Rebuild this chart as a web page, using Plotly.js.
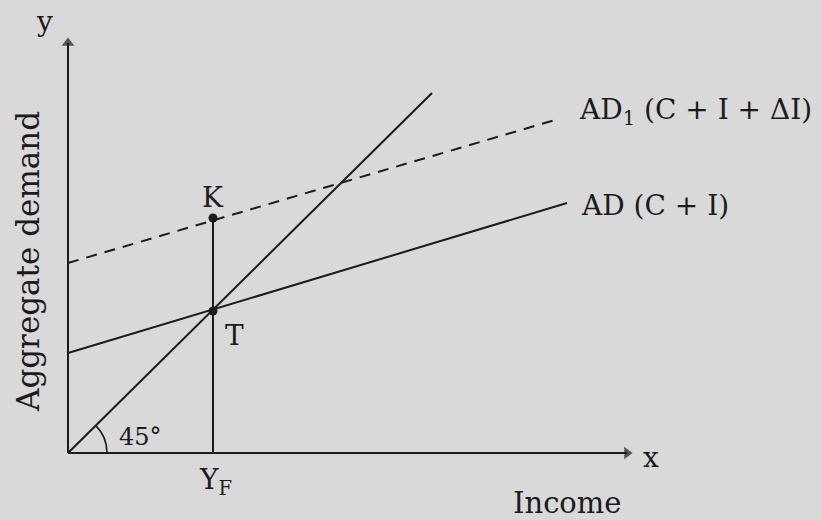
<!DOCTYPE html>
<html>
<head>
<meta charset="utf-8">
<script src="https://cdn.plot.ly/plotly-3.0.1.min.js"></script>
<style>html,body{margin:0;padding:0;background:#d8d9d8;}#chart{width:822px;height:520px;}</style>
</head>
<body>
<div id="chart"></div>
<script>
// Data (income on x, aggregate demand on y)
const line45X = [0, 36.4];
const line45Y = [0, 36.0];
const adX = [0, 49.9];
const adY = [10.0, 25.0];
const ad1X = [0, 48.7];
const ad1Y = [19.0, 33.3];
const pointT = [14.5, 14.2];
const pointK = [14.5, 23.5];
const yfX = [14.5, 14.5];
const yfY = [0, 23.5];
const xAxisX = [0, 55.9];
const xAxisY = [0, 0];
const yAxisX = [0, 0];
const yAxisY = [0, 41.0];
const labelAD = "AD (C + I)";
const labelAD1 = "AD<sub>1</sub> (C + I + ΔI)";

const ink = "#1b1b1b";
const font = {family: "DejaVu Serif, serif", color: ink};

const axisTrace = (xs, ys, sym) => ({
  x: xs, y: ys, mode: "lines+markers", line: {color: ink, width: 2},
  marker: {symbol: sym, size: [0, 11], color: ink, line: {width: 0}},
  hoverinfo: "skip"
});

const traces = [
  axisTrace(xAxisX, xAxisY, "triangle-right"),
  axisTrace(yAxisX, yAxisY, "triangle-up"),
  {x: line45X, y: line45Y, mode: "lines", line: {color: ink, width: 2}, hoverinfo: "skip"},
  {x: adX, y: adY, mode: "lines", line: {color: ink, width: 2}, hoverinfo: "skip"},
  {x: ad1X, y: ad1Y, mode: "lines", line: {color: ink, width: 2, dash: "11px,8px"}, hoverinfo: "skip"},
  {x: yfX, y: yfY, mode: "lines", line: {color: ink, width: 2}, hoverinfo: "skip"},
  {x: [pointT[0], pointK[0]], y: [pointT[1], pointK[1]], mode: "markers",
   marker: {color: ink, size: 9}, hoverinfo: "skip"}
];

const ann = [];
function txt(x, y, t, size, extra) {
  ann.push(Object.assign({x: x, y: y, xref: "x", yref: "y", text: t, showarrow: false,
    font: Object.assign({}, font, {size: size})}, extra || {}));
}
txt(-2.4, 43.2, "y", 28);
txt(58.3, -0.4, "x", 28);
txt(-4.0, 19.1, "Aggregate demand", 31, {textangle: -90});
txt(49.9, -5.0, "Income", 29);
txt(50.9, 34.2, labelAD1, 28, {xanchor: "left"});
txt(51.1, 24.8, labelAD, 28, {xanchor: "left"});
txt(14.5, 25.6, "K", 28);
txt(16.6, 11.8, "T", 28);
txt(14.7, -2.8, "Y<sub>F</sub>", 28);
txt(7.2, 1.6, "45°", 24);

const layout = {
  width: 822, height: 520,
  margin: {l: 0, r: 0, t: 0, b: 0},
  paper_bgcolor: "#d8d9d8", plot_bgcolor: "#d8d9d8",
  showlegend: false,
  xaxis: {range: [-6.8, 75.4], visible: false, fixedrange: true},
  yaxis: {range: [-6.7, 45.3], visible: false, fixedrange: true},
  annotations: ann,
  shapes: [
    {type: "path", xref: "x", yref: "y", path: "M 3.9,0 Q 3.9,1.62 2.76,2.76",
     line: {color: ink, width: 1.6}}
  ]
};
Plotly.newPlot("chart", traces, layout, {staticPlot: true});
</script>
</body>
</html>
